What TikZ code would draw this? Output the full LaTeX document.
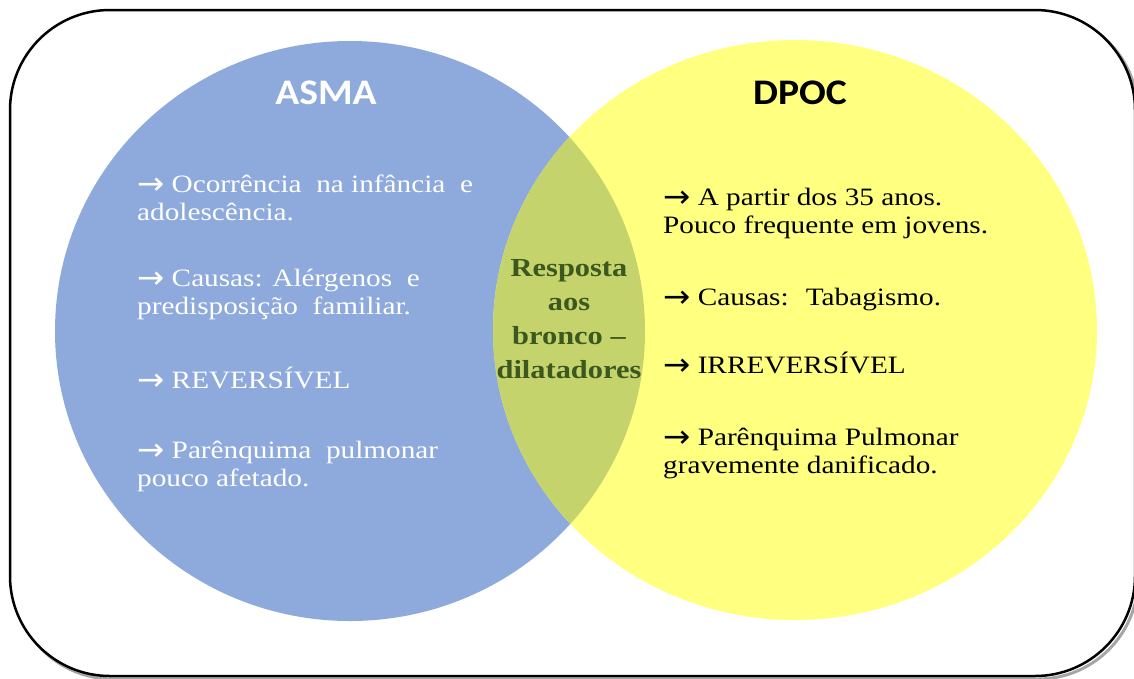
\documentclass[tikz,border=0pt]{standalone}
\usepackage{fontspec}
\usepackage{graphicx}
\setmainfont{Liberation Serif}[FakeStretch=1.17]
\newfontfamily\headfont{Carlito}[FakeStretch=1.1]
\newfontfamily\arrfont{DejaVu Sans}
\newcommand{\rarr}{\raisebox{-2pt}{\scalebox{1.3}[1.25]{\arrfont →}}}
\definecolor{asmablue}{RGB}{142,169,219}
\definecolor{dpocyellow}{RGB}{255,255,128}
\definecolor{lensgreen}{RGB}{197,211,108}
\definecolor{lenstext}{RGB}{60,88,30}
\begin{document}
\begin{tikzpicture}[x=1pt,y=-1pt,
  head/.style={font=\headfont\bfseries\fontsize{36}{36}\selectfont, inner sep=0pt},
  txt/.style={font=\fontsize{25}{28}\selectfont, anchor=base west, inner sep=0pt},
  lens/.style={font=\bfseries\fontsize{26}{34}\selectfont, text=lenstext, align=center, inner sep=0pt}]
\useasboundingbox (0,0) rectangle (1134,678);
% frame with shadow
\draw[gray!70, line width=3pt, rounded corners=100pt] (13,13) rectangle (1138,679);
\draw[black, line width=2.5pt, fill=white, rounded corners=100pt] (10,10) rectangle (1135,676);
% circles
\fill[asmablue] (350,331) ellipse [x radius=295, y radius=290];
\fill[dpocyellow] (795,330) ellipse [x radius=302, y radius=290];
\begin{scope}
  \clip (350,331) ellipse [x radius=295, y radius=290];
  \fill[lensgreen] (795,330) ellipse [x radius=302, y radius=290];
\end{scope}
% headings
\node[head, text=white] (asma) at (326,93) {ASMA};
\node[head, text=black] (dpoc) at (800,93) {DPOC};
% left texts
\begin{scope}[every node/.style={txt, text=white}]
\node (l1) at (137,192) {\rarr{} Ocorrência \ na infância \ e};
\node (l2) at (137,220) {adolescência.};
\node (l3) at (137,286) {\rarr{} Causas: Alérgenos \ e};
\node (l4) at (137,314) {predisposição \ familiar.};
\node (l5) at (137,388) {\rarr{} REVERSÍVEL};
\node (l6) at (137,458) {\rarr{} Parênquima \ pulmonar};
\node (l7) at (137,486) {pouco afetado.};
\end{scope}
% right texts
\begin{scope}[every node/.style={txt, text=black}]
\node (r1) at (663,205) {\rarr{} A partir dos 35 anos.};
\node (r2) at (663,233) {Pouco frequente em jovens.};
\node (r3) at (663,305) {\rarr{} Causas: \ Tabagismo.};
\node (r4) at (663,373) {\rarr{} IRREVERSÍVEL};
\node (r5) at (663,445) {\rarr{} Parênquima Pulmonar};
\node (r6) at (663,473) {gravemente danificado.};
\end{scope}
% overlap text
\node[lens] (resp) at (569,319) {Resposta\\aos\\bronco –\\dilatadores};
\end{tikzpicture}
\end{document}
